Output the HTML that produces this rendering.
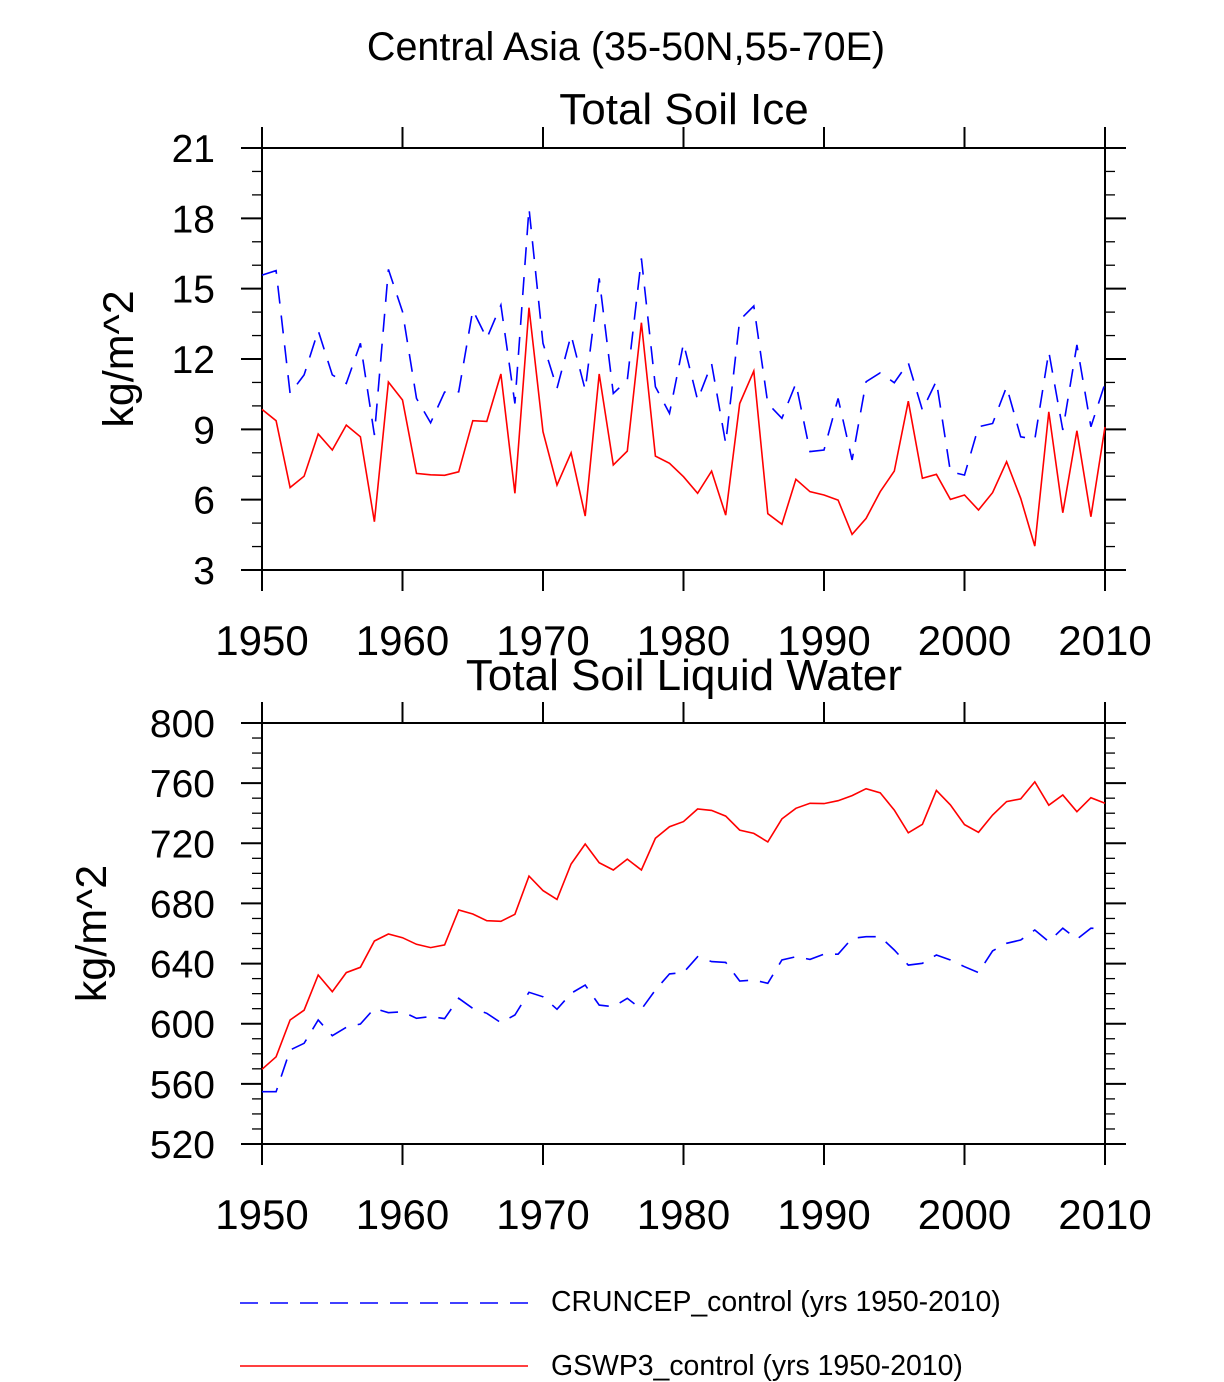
<!DOCTYPE html>
<html><head><meta charset="utf-8"><style>
html,body{margin:0;padding:0;background:#fff}
svg{display:block;font-family:"Liberation Sans",Arial,sans-serif}
</style></head><body>
<svg id="chart" width="1224" height="1382" viewBox="0 0 1224 1382" xmlns="http://www.w3.org/2000/svg">
<text x="626" y="60" font-size="39.5" text-anchor="middle">Central Asia (35-50N,55-70E)</text>
<g id="p1"></g>
<g id="p2"></g>
<g>
<line x1="240" y1="1303" x2="528" y2="1303" stroke="#0000ff" stroke-width="1.4" stroke-dasharray="18 12"/>
<text x="551" y="1311" font-size="28.4">CRUNCEP_control (yrs 1950-2010)</text>
<line x1="240" y1="1366" x2="528" y2="1366" stroke="#ff0000" stroke-width="1.4"/>
<text x="551" y="1375" font-size="28.4">GSWP3_control (yrs 1950-2010)</text>
</g>
</svg>
<script>
const years = [];
for (let y = 1950; y <= 2010; y++) years.push(y);
const xTicks = [1950,1960,1970,1980,1990,2000,2010];
const iceGswp3 = [9.85,9.37,6.52,7.0,8.8,8.12,9.18,8.68,5.06,11.02,10.25,7.12,7.06,7.04,7.19,9.37,9.34,11.36,6.27,14.19,8.9,6.62,8.0,5.3,11.36,7.48,8.07,13.55,7.86,7.55,6.98,6.27,7.22,5.34,10.1,11.49,5.4,4.95,6.87,6.34,6.2,5.98,4.52,5.2,6.34,7.22,10.2,6.91,7.08,6.01,6.2,5.56,6.3,7.62,6.06,4.02,9.75,5.44,8.94,5.27,9.1];
const iceCruncep = [15.58,15.77,10.53,11.32,13.21,11.32,10.96,12.67,8.76,15.82,14.02,10.32,9.28,10.59,10.6,14.09,12.88,14.3,10.1,18.43,12.67,10.75,13.02,10.68,15.44,10.53,11.1,16.29,10.82,9.68,12.67,10.25,11.8,8.4,13.66,14.26,10.1,9.47,10.96,8.05,8.12,10.32,7.69,11.03,11.41,10.99,11.84,9.82,11.06,7.19,7.05,9.11,9.25,10.82,8.68,8.57,12.31,8.97,12.6,9.11,10.96];
const iceTicks = [3,6,9,12,15,18,21];
const liqGswp3 = [569.7,578,602.5,609,632.4,621.3,634,637.5,655,659.7,657.2,652.8,650.6,652.4,675.6,673,668.5,668.1,672.8,698.2,688.5,682.7,706.2,719.5,707.1,702.2,709.5,702.2,723.3,731,734.4,742.8,741.9,738.1,728.8,726.6,720.9,736.2,743.3,746.6,746.4,748.3,751.7,756.3,753.6,742.1,727,732.6,755.2,745.5,732.4,727.3,738.8,747.7,749.5,760.8,745.3,752.1,741,750.3,746.6];
const liqCruncep = [554.8,554.8,582.5,587,602.5,592,597.6,599.8,610.2,607.3,608,603.6,604.7,603.4,616.9,610.2,606.9,600.7,605.8,620.9,617.9,609.6,620.2,625.7,612.4,611.3,616.9,609.6,622.4,633.1,634,644.6,641.3,640.8,628.4,629.1,626.9,642.4,644.6,642.8,646.2,646.2,656.8,657.9,657.9,649,639,640.2,645.7,642.4,637.9,634,648.4,653.5,655.7,662.3,654.6,663.5,656.2,663.5,663];
const liqTicks = [520,560,600,640,680,720,760,800];

const NS = "http://www.w3.org/2000/svg";
function mk(parent, tag, attrs, txt) {
  const e = document.createElementNS(NS, tag);
  for (const k in attrs) e.setAttribute(k, attrs[k]);
  if (txt !== undefined) e.textContent = txt;
  parent.appendChild(e);
  return e;
}
function panel(g, cfg) {
  const L = 262, R = 1105, T = cfg.top, B = cfg.bottom;
  const sx = v => L + (v - 1950) / 60 * (R - L);
  const sy = v => B - (v - cfg.ymin) / (cfg.ymax - cfg.ymin) * (B - T);
  const t = mk(g, "text", {x: 684, y: cfg.titleY, "font-size": 44, "text-anchor": "middle"}, cfg.title);
  
  
  const box = mk(g, "rect", {x: L, y: T, width: R - L, height: B - T, fill: "none", stroke: "#000", "stroke-width": 2});
  
  
  for (let v = cfg.ymin; v <= cfg.ymax + 1e-9; v += cfg.minor) {
    const y = sy(v);
    const major = Math.abs((v - cfg.ymin) % cfg.major) < 1e-6;
    const len = major ? 21 : 10;
    const a = mk(g, "line", {x1: L - len, y1: y, x2: L, y2: y, stroke: "#000", "stroke-width": major ? 2 : 1.3});
    
    
    const b = mk(g, "line", {x1: R, y1: y, x2: R + len, y2: y, stroke: "#000", "stroke-width": major ? 2 : 1.3});
    
    
  }
  cfg.ticks.forEach(v => {
    const lb = mk(g, "text", {x: 215, y: sy(v) + 14, "font-size": 39, "text-anchor": "end"}, String(v));
    
    
  });
  xTicks.forEach(v => {
    const x = sx(v);
    const a = mk(g, "line", {x1: x, y1: T - 21, x2: x, y2: T, stroke: "#000", "stroke-width": 2});
    
    
    const b = mk(g, "line", {x1: x, y1: B, x2: x, y2: B + 21, stroke: "#000", "stroke-width": 2});
    
    
    const lb = mk(g, "text", {x: x, y: B + 85, "font-size": 42, "text-anchor": "middle"}, String(v));
    
    
  });
  const yt = mk(g, "text", {x: 0, y: 0, "font-size": 43, "text-anchor": "middle", transform: `translate(${cfg.ytX},${(T + B) / 2}) rotate(-90)`}, "kg/m^2");
  
  
  const pts = arr => arr.map((v, i) => sx(years[i]).toFixed(1) + "," + sy(v).toFixed(1)).join(" ");
  const lb = mk(g, "polyline", {points: pts(cfg.blue), fill: "none", stroke: "#0000ff", "stroke-width": 1.6, "stroke-dasharray": "18 12"});
  
  
  const lr = mk(g, "polyline", {points: pts(cfg.red), fill: "none", stroke: "#ff0000", "stroke-width": 1.6});
  
  
}
panel(document.getElementById("p1"), {top: 148, bottom: 570, ymin: 3, ymax: 21, major: 3, minor: 1, ticks: iceTicks, title: "Total Soil Ice", titleY: 124, ytX: 133, red: iceGswp3, blue: iceCruncep});
panel(document.getElementById("p2"), {top: 723, bottom: 1144, ymin: 520, ymax: 800, major: 40, minor: 10, ticks: liqTicks, title: "Total Soil Liquid Water", titleY: 690, ytX: 106, red: liqGswp3, blue: liqCruncep});
</script>
</body></html>
